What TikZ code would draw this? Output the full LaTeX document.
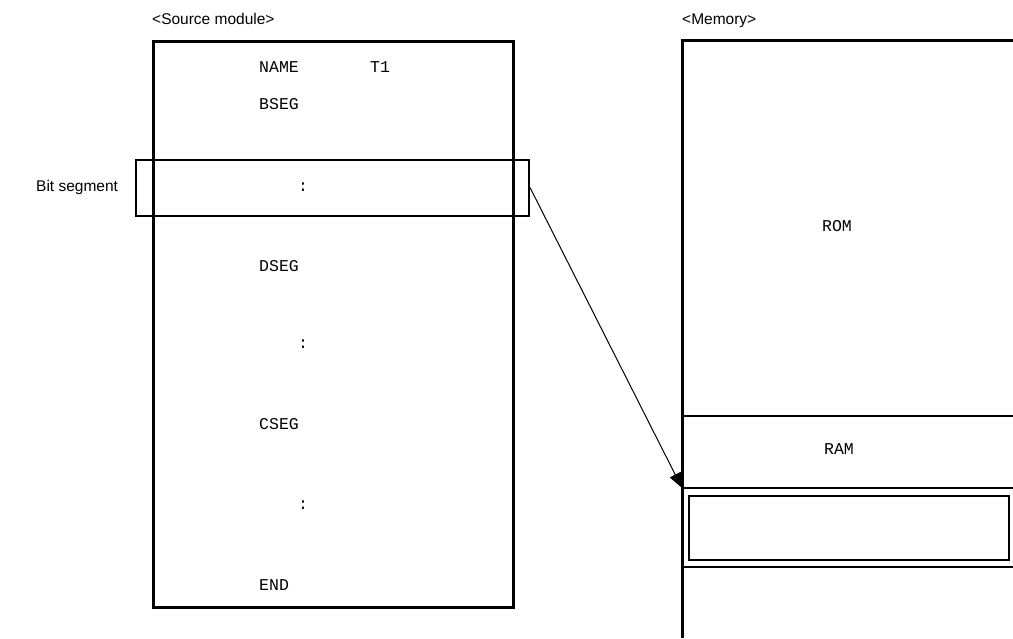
\documentclass[tikz,border=0pt]{standalone}
\usepackage{fontspec}
\setmainfont{Liberation Sans}
\newfontfamily\codefont{Liberation Mono}
\usetikzlibrary{arrows.meta}
\begin{document}
\begin{tikzpicture}[x=1pt,y=-1pt,
  lbl/.style={font=\fontsize{15.5}{18}\selectfont, inner sep=0pt},
  code/.style={font=\codefont\fontsize{16.5}{19}\selectfont, inner sep=0pt},
  thick box/.style={draw, line width=3pt},
  thin box/.style={draw, line width=2pt},
  memline/.style={line width=2pt},
  conn/.style={line width=1pt, -{Triangle[length=15pt,width=12pt]}}]
\useasboundingbox (0,0) rectangle (1013,638);

% Source module
\node[lbl, anchor=base west] (srclbl) at (152,24) {<Source module>};
\draw[thick box] (153,41) rectangle (513,607);
\node[code, anchor=west] (name) at (259,67) {NAME};
\node[code, anchor=west] (t1) at (370,67) {T1};
\node[code, anchor=west] (bseg) at (259,104) {BSEG};
\node[thin box, minimum width=393pt, minimum height=56pt, inner sep=0pt] (bit) at (332.5,187.5) {};
\node[code] (c1) at (303,187) {:};
\node[code, anchor=west] (dseg) at (259,266) {DSEG};
\node[code] (c2) at (303,344) {:};
\node[code, anchor=west] (cseg) at (259,424) {CSEG};
\node[code] (c3) at (303,505) {:};
\node[code, anchor=west] (endt) at (259,585) {END};
\node[lbl, anchor=west] (bitlbl) at (36,187) {Bit segment};

% Memory
\node[lbl, anchor=base west] (memlbl) at (682,24) {<Memory>};
\coordinate (mtl) at (682,40);
\coordinate (mtr) at (1013,40);
\coordinate (mbl) at (682,638);
\draw[line width=3pt] (mtr) -- (mtl) -- (mbl);
\draw[memline] (682,416) -- (1013,416);
\draw[memline] (682,488) -- (1013,488);
\draw[memline] (682,567) -- (1013,567);
\node[code] (rom) at (837,226) {ROM};
\node[code] (ram) at (839,449) {RAM};
\node[thin box, minimum width=320pt, minimum height=64pt, inner sep=0pt] (bitmem) at (849,528) {};
\coordinate (tip) at (682,488);

\draw[conn] (bit.east) -- (tip);
\end{tikzpicture}
\end{document}
